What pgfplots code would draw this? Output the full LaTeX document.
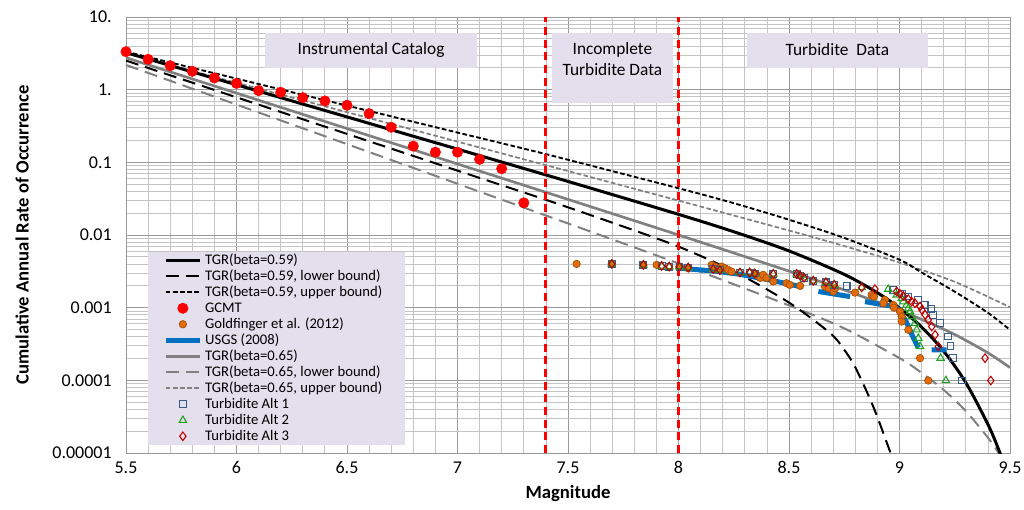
\documentclass[border=0pt]{standalone}
\usepackage{fontspec}
\setmainfont{Carlito}
\usepackage{pgfplots}
\pgfplotsset{compat=1.18}
\definecolor{boxfill}{HTML}{E4DFEC}
\definecolor{orfill}{HTML}{E36C09}
\definecolor{oredge}{HTML}{A04F06}
\definecolor{usgs}{HTML}{0070C0}
\definecolor{altone}{HTML}{385D8A}
\definecolor{alttwo}{HTML}{22A022}
\definecolor{altthree}{HTML}{C00000}
\definecolor{tgrgray}{HTML}{808080}
\definecolor{majgrid}{HTML}{9A9A9A}
\definecolor{mingrid}{HTML}{C4C4C4}
\begin{document}
\begin{tikzpicture}
\begin{axis}[
 name=ax, at={(0,0)}, anchor=south west,
 width=663pt, height=327pt, scale only axis,
 xmin=5.5, xmax=9.5, ymin=1e-5, ymax=10, ymode=log,
 unbounded coords=jump,
 xtick={5.5,6,6.5,7,7.5,8,8.5,9,9.5},
 xticklabels={5.5,6,6.5,7,7.5,8,8.5,9,9.5},
 minor x tick num=4,
 ytick={1e-5,1e-4,1e-3,1e-2,1e-1,1,10},
 yticklabels={0.00001,0.0001,0.001,0.01,0.1,1.,10.},
 minor ytick={2e-5,3e-5,4e-5,5e-5,6e-5,7e-5,8e-5,9e-5,
   2e-4,3e-4,4e-4,5e-4,6e-4,7e-4,8e-4,9e-4,
   2e-3,3e-3,4e-3,5e-3,6e-3,7e-3,8e-3,9e-3,
   0.02,0.03,0.04,0.05,0.06,0.07,0.08,0.09,
   0.2,0.3,0.4,0.5,0.6,0.7,0.8,0.9,
   2,3,4,5,6,7,8,9},
 grid=both,
 major grid style={draw=majgrid, line width=0.65pt},
 minor grid style={draw=mingrid, line width=0.6pt},
 major tick length=0pt, minor tick length=0pt,
 axis line style={draw=majgrid, line width=0.65pt},
 tick label style={font=\fontsize{13.5}{14}\selectfont},
 xticklabel style={inner sep=0pt, yshift=-6.2pt},
 yticklabel style={inner sep=0pt, xshift=-10.5pt},
 xlabel={Magnitude},
 ylabel={Cumulative Annual Rate of Occurrence},
 label style={font=\fontsize{14}{16}\selectfont\bfseries},
 xlabel style={at={(axis description cs:0.5,-0.094)}, anchor=center},
 ylabel style={at={(axis description cs:-0.1176,0.5)}, anchor=center},
 legend image code/.code={\draw[mark repeat=2,mark phase=2,#1] plot coordinates {(0cm,0cm) (0.45cm,0cm) (0.9cm,0cm)};},
 legend style={at={(0.0419,0.461)}, anchor=north west, fill=none, draw=none,
   inner sep=0pt, font=\fontsize{11}{12}\selectfont, cells={anchor=west},
   nodes={inner xsep=2pt, inner ysep=0.5pt, text height=8.5pt, text depth=2.5pt}},
]
% legend entries
\addlegendimage{black, line width=2.25pt}
\addlegendentry{TGR(beta=0.59)}
\addlegendimage{black, line width=1.5pt, dash pattern=on 9.75pt off 5.25pt}
\addlegendentry{TGR(beta=0.59, lower bound)}
\addlegendimage{black, line width=1.4pt, dash pattern=on 3.5pt off 1.8pt}
\addlegendentry{TGR(beta=0.59, upper bound)}
\addlegendimage{only marks, mark=*, mark size=3.9pt, red}
\addlegendentry{GCMT}
\addlegendimage{only marks, mark=*, mark size=2.8pt, color=orfill, mark options={draw=oredge, line width=0.5pt}}
\addlegendentry{Goldfinger et al. (2012)}
\addlegendimage{usgs, line width=3.75pt}
\addlegendentry{USGS (2008)}
\addlegendimage{tgrgray, line width=2pt}
\addlegendentry{TGR(beta=0.65)}
\addlegendimage{tgrgray, line width=1.5pt, dash pattern=on 9.75pt off 5.25pt}
\addlegendentry{TGR(beta=0.65, lower bound)}
\addlegendimage{tgrgray, line width=1.3pt, dash pattern=on 3.5pt off 1.8pt}
\addlegendentry{TGR(beta=0.65, upper bound)}
\addlegendimage{only marks, mark=square, mark size=2.5pt, altone, mark options={line width=0.8pt}}
\addlegendentry{Turbidite Alt 1}
\addlegendimage{only marks, mark=triangle, mark size=3.2pt, alttwo, mark options={line width=0.8pt}}
\addlegendentry{Turbidite Alt 2}
\addlegendimage{only marks, mark=diamond, mark size=3.2pt, altthree, mark options={line width=0.8pt}}
\addlegendentry{Turbidite Alt 3}

% boxes
\fill[boxfill] (axis cs:5.5995,0.00586) rectangle (axis cs:6.7624,1.297e-5);
\fill[boxfill] (axis cs:6.129,6.03) rectangle (axis cs:7.088,1.99);
\fill[boxfill] (axis cs:7.428,6.03) rectangle (axis cs:7.975,0.656);
\fill[boxfill] (axis cs:8.310,6.03) rectangle (axis cs:9.129,1.99);
\node[font=\fontsize{13}{15.75}\selectfont] at (axis cs:6.609,3.52) {Instrumental Catalog};
\node[font=\fontsize{13}{15.75}\selectfont, align=center] at (axis cs:7.701,2.60) {Incomplete\\Turbidite Data};
\node[font=\fontsize{13}{15.75}\selectfont] at (axis cs:8.719,3.52) {Turbidite\ \ Data};

% TGR beta=0.65 curves
\addplot[forget plot, tgrgray, line width=2pt, smooth] coordinates {
(5.5,2.754)(6.0,0.897)(6.5,0.2917)(7.0,0.0950)(7.5,0.0309)(8.0,0.01001)(8.5,0.003186)(8.75,0.001754)(9.0,0.000917)(9.1,0.000689)(9.25,0.000427)(9.4,0.000239)(9.5,0.0001496)};
\addplot[forget plot, tgrgray, line width=1.5pt, dash pattern=on 9.75pt off 5.25pt, smooth] coordinates {
(5.5,2.188)(6.0,0.624)(6.5,0.178)(7.0,0.0507)(7.5,0.01442)(8.0,0.004055)(8.5,0.001074)(8.75,5.19e-4)(9.0,2.02e-4)(9.1,1.27e-4)(9.2,7.38e-5)(9.3,3.78e-5)(9.4,1.63e-5)(9.45,9.86e-6)(9.5,5.5e-6)};
\addplot[forget plot, tgrgray, line width=1.3pt, dash pattern=on 3.5pt off 1.8pt, smooth] coordinates {
(5.5,3.162)(6.0,1.245)(6.5,0.490)(7.0,0.1928)(7.5,0.0759)(8.0,0.02976)(8.5,0.01153)(8.75,0.00705)(9.0,0.004169)(9.25,0.00227)(9.5,0.001016)};
% TGR beta=0.59 curves
\addplot[forget plot, black, line width=2.25pt, smooth] coordinates {
(5.5,3.236)(6.0,1.168)(6.5,0.4217)(7.0,0.152)(7.5,0.0546)(8.0,0.01924)(8.25,0.01109)(8.5,0.00604)(8.75,0.00287)(8.9,0.001603)(9.0,0.000987)(9.1,0.000542)(9.2,0.000252)(9.3,9.31e-5)(9.4,2.48e-5)(9.45,1.09e-5)(9.5,4.14e-6)};
\addplot[forget plot, black, line width=1.5pt, dash pattern=on 9.75pt off 5.25pt, smooth] coordinates {
(5.5,2.512)(6.0,0.785)(6.5,0.246)(7.0,0.0769)(7.4,0.0305)(7.7,0.01479)(8.0,0.00692)(8.25,0.00316)(8.5,0.001175)(8.686,0.000447)(8.75,0.000263)(8.8,0.000151)(8.881,4.37e-5)(8.957,1.05e-5)(9.0,4.47e-6)};
\addplot[forget plot, black, line width=1.4pt, dash pattern=on 3.5pt off 1.8pt, smooth] coordinates {
(5.5,3.33)(6.0,1.419)(6.5,0.604)(7.0,0.257)(7.4,0.1297)(8.0,0.0440)(8.25,0.0274)(8.5,0.01622)(8.75,0.00912)(9.0,0.00457)(9.1,0.00305)(9.25,0.00166)(9.4,0.000851)(9.5,0.000495)};

% completeness limits
\addplot[forget plot, red, line width=2.2pt, dash pattern=on 6pt off 3.5pt] coordinates {(7.4,1e-5)(7.4,10)};
\addplot[forget plot, red, line width=2.2pt, dash pattern=on 6pt off 3.5pt] coordinates {(8.0,1e-5)(8.0,10)};

% USGS (2008)
\addplot[forget plot, usgs, line width=3.75pt] coordinates {
(7.99,0.00352)(8.157,0.00320)(8.278,0.00288)(8.405,0.00243)(8.563,0.00192)
(8.6,nan)
(8.633,0.00167)(8.776,0.00142)
(8.81,nan)
(8.844,0.00121)(8.972,0.00104)(8.990,0.00097)(9.010,0.00082)(9.035,0.00060)(9.060,0.00040)(9.085,0.00028)
(9.12,nan)
(9.145,0.000263)(9.213,0.000263)};

% GCMT
\addplot[forget plot, only marks, mark=*, mark size=3.9pt, red] coordinates {
(5.5,3.33)(5.6,2.62)(5.7,2.14)(5.8,1.79)(5.9,1.45)(6.0,1.22)(6.1,0.97)(6.2,0.92)(6.3,0.776)(6.4,0.70)(6.5,0.61)(6.6,0.468)(6.7,0.304)(6.8,0.167)(6.9,0.138)(7.0,0.138)(7.1,0.110)(7.2,0.0818)(7.3,0.0277)};

% Goldfinger et al. (2012)
\addplot[forget plot, only marks, mark=*, mark size=2.8pt, color=orfill, mark options={draw=oredge, line width=0.5pt}] coordinates {
(7.539,0.00400)(7.698,0.00400)(7.841,0.00388)(7.901,0.00388)(8.004,0.00367)(8.044,0.00349)(8.150,0.00388)(8.165,0.00367)(8.180,0.00331)(8.188,0.00349)(8.195,0.00367)(8.210,0.00349)(8.225,0.00331)(8.240,0.00314)(8.353,0.00283)(8.370,0.00257)(8.383,0.00283)(8.398,0.00257)(8.429,0.00229)(8.489,0.00217)(8.504,0.00206)(8.550,0.00200)(8.663,0.00195)(8.680,0.00185)(8.701,0.00167)(8.709,0.00185)(8.799,0.00161)(8.874,0.00150)(8.884,0.00142)(8.934,0.00128)(8.927,0.00115)(8.972,0.00109)(8.975,0.00100)(9.002,0.000884)(9.010,0.000755)(9.010,0.000644)(9.040,0.000496)(9.093,0.000202)(9.130,0.0000993)};

% Turbidite Alt 1
\addplot[forget plot, only marks, mark=square, mark size=2.5pt, altone, mark options={line width=0.8pt}] coordinates {
(7.698,0.00400)(7.841,0.00388)(7.924,0.00374)(7.958,0.00367)(8.004,0.00367)(8.044,0.00356)(8.157,0.00339)(8.187,0.00328)(8.278,0.00304)(8.322,0.00304)(8.345,0.00295)(8.429,0.00292)(8.535,0.00290)(8.550,0.00276)(8.568,0.00258)(8.610,0.00235)(8.667,0.00223)(8.705,0.00206)
(8.761,0.00197)(8.972,0.00175)(9.010,0.00157)(9.040,0.00142)(9.084,0.00128)(9.114,0.00109)(9.144,0.000955)(9.152,0.00080)(9.182,0.000612)(9.220,0.000401)(9.231,0.000299)(9.243,0.000202)(9.284,0.0000993)};

% Turbidite Alt 2
\addplot[forget plot, only marks, mark=triangle, mark size=3.2pt, alttwo, mark options={line width=0.8pt}] coordinates {
(7.698,0.00400)(7.841,0.00388)(7.924,0.00374)(7.958,0.00367)(8.004,0.00367)(8.044,0.00356)(8.157,0.00339)(8.187,0.00328)(8.278,0.00304)(8.322,0.00304)(8.345,0.00295)(8.429,0.00292)(8.535,0.00290)(8.550,0.00276)(8.568,0.00258)(8.610,0.00235)(8.667,0.00223)(8.705,0.00206)
(8.829,0.00190)(8.949,0.00180)(8.987,0.00150)(9.010,0.00135)(9.017,0.00121)(9.032,0.00109)(9.040,0.000984)(9.048,0.000884)(9.055,0.000755)(9.070,0.000612)(9.078,0.000496)(9.085,0.000380)(9.093,0.000292)(9.186,0.000202)(9.210,0.0000993)};

% Turbidite Alt 3
\addplot[forget plot, only marks, mark=diamond, mark size=3.2pt, altthree, mark options={line width=0.8pt}] coordinates {
(7.698,0.00400)(7.841,0.00388)(7.924,0.00374)(7.958,0.00367)(8.004,0.00367)(8.044,0.00356)(8.157,0.00339)(8.187,0.00328)(8.278,0.00304)(8.322,0.00304)(8.345,0.00295)(8.429,0.00292)(8.535,0.00290)(8.550,0.00276)(8.568,0.00258)(8.610,0.00235)(8.667,0.00223)(8.705,0.00206)
(8.829,0.00190)(8.889,0.00180)(8.987,0.00167)(9.002,0.00155)(9.017,0.00145)(9.040,0.00131)(9.055,0.00121)(9.070,0.00115)(9.093,0.00104)(9.101,0.000933)(9.116,0.000797)(9.130,0.000680)(9.146,0.000550)(9.161,0.000423)(9.176,0.000292)(9.387,0.000202)(9.413,0.0000993)};
\end{axis}
\pgfresetboundingbox
\path (-94.5pt,-42.75pt) rectangle (673.5pt,339.75pt);
\end{tikzpicture}
\end{document}
